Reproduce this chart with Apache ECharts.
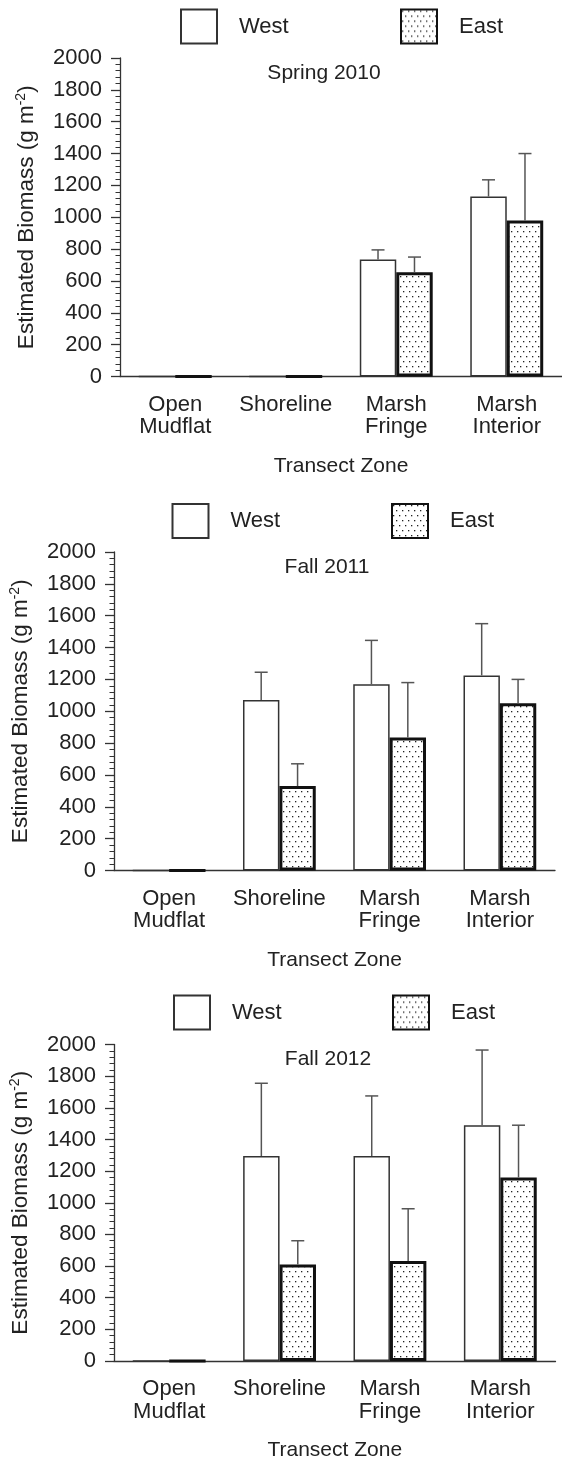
<!DOCTYPE html>
<html>
<head>
<meta charset="utf-8">
<script src="https://cdn.jsdelivr.net/npm/echarts@6/dist/echarts.min.js"></script>
<style>
  html, body { margin: 0; padding: 0; background: #fff; }
  #chart { width: 562px; height: 1462px; }
</style>
</head>
<body>
<div id="chart"></div>
<script>
// Transect zones along the x axis
const zones = ['Open\nMudflat', 'Shoreline', 'Marsh\nFringe', 'Marsh\nInterior'];
const seasons = ['Spring 2010', 'Fall 2011', 'Fall 2012'];
const sites = ['West', 'East'];

// Y axis range and step (g m-2)
const yMin = 0;
const yMax = 2000;
const yStep = 200;

// Estimated biomass, mean and error (upper bar), per zone
const westSpring2010 = [0, 0, 735, 1130];
const westErrSpring2010 = [0, 0, 60, 105];
const eastSpring2010 = [0, 0, 655, 980];
const eastErrSpring2010 = [0, 0, 95, 420];

const westFall2011 = [0, 1070, 1170, 1225];
const westErrFall2011 = [0, 175, 275, 325];
const eastFall2011 = [0, 530, 835, 1050];
const eastErrFall2011 = [0, 140, 345, 150];

const westFall2012 = [0, 1295, 1295, 1490];
const westErrFall2012 = [0, 460, 380, 475];
const eastFall2012 = [0, 610, 632, 1160];
const eastErrFall2012 = [0, 150, 330, 330];

const panelData = [
  { west: westSpring2010, westErr: westErrSpring2010, east: eastSpring2010, eastErr: eastErrSpring2010 },
  { west: westFall2011, westErr: westErrFall2011, east: eastFall2011, eastErr: eastErrFall2011 },
  { west: westFall2012, westErr: westErrFall2012, east: eastFall2012, eastErr: eastErrFall2012 }
];

// Page layout of the three stacked panels
const PLOT_H = 318.5;
const layout = [
  { left: 120,   width: 443,   top: 58,     legendTop: 8.5,   westLeft: 180,   eastLeft: 400, titleX: 324, titleY: 73 },
  { left: 110.5, width: 444.5, top: 552,    legendTop: 503,   westLeft: 171.5, eastLeft: 391, titleX: 327, titleY: 567 },
  { left: 112.5, width: 443,   top: 1044.5, legendTop: 994.5, westLeft: 173,   eastLeft: 392, titleX: 328, titleY: 1059 }
];

const FONT = '"Liberation Sans", Arial, sans-serif';
const INK = '#222';
const AXIS = '#333';
const GAP_FRAC = 0.34;               // barCategoryGap
const BAR_FRAC = (1 - GAP_FRAC) / 2; // each bar's share of the category band

// Stippled fill for the East bars
function dotTile() {
  const c = document.createElement('canvas');
  c.width = 6; c.height = 10;
  const g = c.getContext('2d');
  g.fillStyle = '#fff';
  g.fillRect(0, 0, 6, 10);
  g.fillStyle = '#222';
  g.fillRect(1, 1, 1.3, 1.3);
  g.fillRect(4, 6, 1.3, 1.3);
  return c;
}
const dots = { image: dotTile(), repeat: 'repeat' };

// Upper error bar with a cap, centred on its bar
function errorBar(side) {
  return function (params, api) {
    const cat = api.value(0);
    const v = api.value(1);
    const e = api.value(2);
    if (!e) return null;
    const band = api.size([1, 0])[0];
    const off = side * band * BAR_FRAC / 2;
    const base = api.coord([cat, v]);
    const top = api.coord([cat, v + e]);
    const x = base[0] + off;
    const st = { stroke: '#555', lineWidth: 1.5 };
    return {
      type: 'group',
      children: [
        { type: 'line', shape: { x1: x, y1: base[1], x2: x, y2: top[1] }, style: st },
        { type: 'line', shape: { x1: x - 6.5, y1: top[1], x2: x + 6.5, y2: top[1] }, style: st }
      ]
    };
  };
}

const grid = [], xAxis = [], yAxis = [], series = [], legend = [], graphic = [];

layout.forEach(function (L, i) {
  const d = panelData[i];
  grid.push({ left: L.left, width: L.width, top: L.top, height: PLOT_H, containLabel: false });

  xAxis.push({
    gridIndex: i, type: 'category', data: zones,
    axisLine: { lineStyle: { color: AXIS, width: 1.3 } },
    axisTick: { length: 10, lineStyle: { color: AXIS, width: 1.3 } },
    axisLabel: { interval: 0, margin: 17, fontSize: 22, lineHeight: 22.5, color: INK, fontFamily: FONT },
    name: 'Transect Zone', nameLocation: 'middle', nameGap: 79,
    nameTextStyle: { fontSize: 21, color: INK, fontFamily: FONT }
  });

  yAxis.push({
    gridIndex: i, type: 'value', min: yMin, max: yMax, interval: yStep,
    axisLine: { show: true, lineStyle: { color: AXIS, width: 1.3 } },
    axisTick: { show: true, length: 9, lineStyle: { color: AXIS, width: 1.3 } },
    minorTick: { show: true, splitNumber: 5, length: 4.5, lineStyle: { color: AXIS, width: 1 } },
    splitLine: { show: false },
    axisLabel: {
      margin: 18, fontSize: 22, color: INK, fontFamily: FONT,
      formatter: function (v) { return String(v); }
    },
    name: '{n|Estimated Biomass (g m}{s|-2}{n|)}',
    nameLocation: 'middle', nameGap: 80,
    nameTextStyle: {
      rich: {
        n: { fontSize: 22.5, lineHeight: 26, color: INK, fontFamily: FONT },
        s: { fontSize: 14, lineHeight: 14, verticalAlign: 'top', color: INK, fontFamily: FONT }
      }
    }
  });

  series.push({
    name: sites[0], type: 'bar', xAxisIndex: i, yAxisIndex: i, data: d.west,
    barGap: '0%', barCategoryGap: (GAP_FRAC * 100) + '%',
    itemStyle: { color: '#fff', borderColor: '#333', borderWidth: 1.5 },
    emphasis: { disabled: true }, z: 2
  });
  series.push({
    name: sites[1], type: 'bar', xAxisIndex: i, yAxisIndex: i, data: d.east,
    barGap: '0%', barCategoryGap: (GAP_FRAC * 100) + '%',
    itemStyle: { color: dots, borderColor: '#111', borderWidth: 3 },
    emphasis: { disabled: true }, z: 2
  });
  series.push({
    name: 'west-err', type: 'custom', xAxisIndex: i, yAxisIndex: i, z: 3,
    renderItem: errorBar(-1), encode: { x: 0, y: 1 },
    data: d.west.map(function (v, k) { return [k, v, d.westErr[k]]; })
  });
  series.push({
    name: 'east-err', type: 'custom', xAxisIndex: i, yAxisIndex: i, z: 3,
    renderItem: errorBar(1), encode: { x: 0, y: 1 },
    data: d.east.map(function (v, k) { return [k, v, d.eastErr[k]]; })
  });

  [[sites[0], L.westLeft], [sites[1], L.eastLeft]].forEach(function (p) {
    legend.push({
      data: [{ name: p[0], icon: 'rect' }], left: p[1], top: L.legendTop, padding: 0,
      itemWidth: 36, itemHeight: 34, selectedMode: false,
      textStyle: { fontSize: 22, color: INK, fontFamily: FONT, padding: [0, 0, 0, 17] }
    });
  });

  graphic.push({
    type: 'text', x: L.titleX, y: L.titleY,
    style: { text: seasons[i], font: '21px ' + FONT, fill: INK, textAlign: 'center', textVerticalAlign: 'middle' }
  });
});

const chart = echarts.init(document.getElementById('chart'), null, { renderer: 'canvas' });
chart.setOption({
  animation: false,
  backgroundColor: '#fff',
  grid: grid,
  xAxis: xAxis,
  yAxis: yAxis,
  legend: legend,
  graphic: graphic,
  series: series
});
</script>
</body>
</html>
